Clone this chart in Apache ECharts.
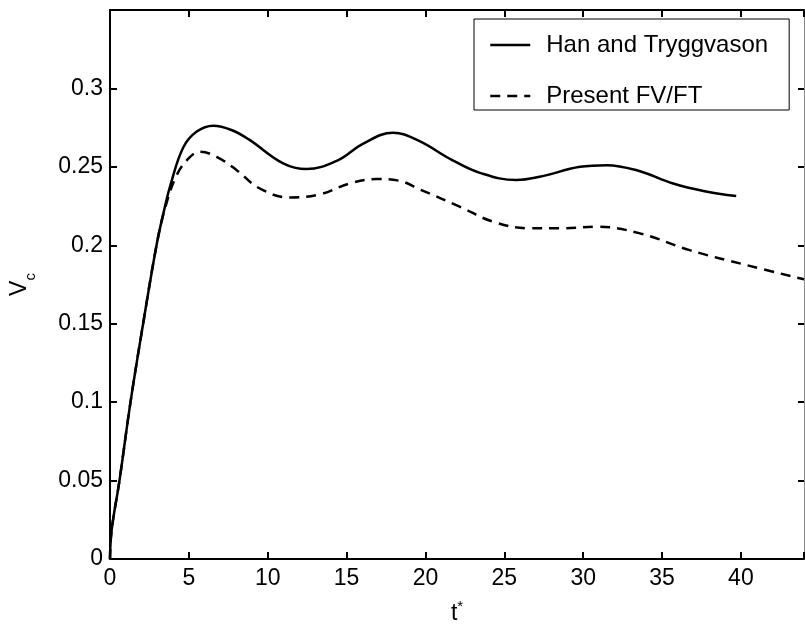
<!DOCTYPE html>
<html>
<head>
<meta charset="utf-8">
<title>Vc vs t*</title>
<script src="https://cdn.jsdelivr.net/npm/echarts@6/dist/echarts.min.js"></script>
<style>
    html, body { margin: 0; padding: 0; background: #fff; }
    #chart { width: 805px; height: 626px; }
</style>
</head>
<body>
<div id="chart"></div>
<script>
    // Han and Tryggvason (solid)
    const hanT = [0, 0.1, 0.6, 1.3, 2.1, 2.95, 3.4, 3.85, 4.65, 5.5, 6.55, 7.7, 8.8, 10.98, 12.46, 14.5, 16.0, 17.95, 19.5, 21.7, 23.5, 25.77, 27.25, 29.8, 31.5, 33.5, 35.7, 37.7, 39.7];
    const hanV = [0, 0.018, 0.05, 0.1, 0.15, 0.2, 0.221, 0.239, 0.2625, 0.2725, 0.2762, 0.2735, 0.2675, 0.2522, 0.2486, 0.2545, 0.2645, 0.2717, 0.267, 0.2543, 0.246, 0.2416, 0.2437, 0.25, 0.2511, 0.2475, 0.2394, 0.2345, 0.2314];

    // Present FV/FT (dashed)
    const fvT = [0, 0.1, 0.6, 1.3, 2.1, 2.95, 3.5, 4.22, 5.0, 5.7, 6.76, 8.03, 9.5, 11.4, 13.3, 15.2, 16.9, 18.3, 19.65, 22.2, 24.3, 26.6, 28.5, 30.85, 33.6, 36.75, 40.35, 44];
    const fvV = [0, 0.018, 0.05, 0.1, 0.15, 0.2, 0.224, 0.2445, 0.2555, 0.2596, 0.2564, 0.2479, 0.2362, 0.2305, 0.2325, 0.2394, 0.2422, 0.2412, 0.2356, 0.2245, 0.215, 0.2108, 0.2108, 0.2118, 0.2076, 0.1969, 0.1874, 0.1783];

    const seriesNames = ['Han and Tryggvason', 'Present FV/FT'];

    const font = 'Liberation Sans, Arial, Helvetica, sans-serif';

    function pairs(xs, ys) {
        return xs.map((x, i) => [x, ys[i]]);
    }

    const chart = echarts.init(document.getElementById('chart'));

    // shared axis look (matlab style box, ticks inside)
    const tickIn = { show: true, inside: true, length: 7, lineStyle: { color: '#000', width: 2 } };

    const option = {
        animation: false,
        backgroundColor: '#fff',
        textStyle: { fontFamily: font },
        grid: { left: 110, right: 1, top: 10, bottom: 67, containLabel: false, outerBoundsMode: 'none' },
        legend: {
            orient: 'vertical',
            left: 474,
            top: 19,
            padding: [14, 21, 2, 15],
            itemGap: 27,
            itemWidth: 40,
            itemHeight: 22,
            borderColor: '#000',
            borderWidth: 1,
            backgroundColor: '#fff',
            itemStyle: { opacity: 0, borderWidth: 0 },
            lineStyle: { width: 2.5 },
            textStyle: { fontFamily: font, fontSize: 24, color: '#000', padding: [0, 0, 0, 11], lineHeight: 22 },
            data: seriesNames
        },
        xAxis: [
            {
                type: 'value',
                min: 0,
                max: 44,
                interval: 5,
                name: '{t|t}{s|*}',
                nameLocation: 'middle',
                nameGap: 40,
                nameTextStyle: {
                    rich: {
                        t: { fontFamily: font, fontSize: 23, color: '#000', verticalAlign: 'bottom', lineHeight: 26 },
                        s: { fontFamily: font, fontSize: 15, color: '#000', verticalAlign: 'top', lineHeight: 26 }
                    }
                },
                axisLine: { show: true, onZero: false, lineStyle: { color: '#000', width: 2 } },
                axisTick: tickIn,
                axisLabel: {
                    fontFamily: font, fontSize: 23, color: '#000', margin: 8,
                    formatter: v => (v % 5 === 0 ? String(v) : '')
                },
                splitLine: { show: false }
            },
            {
                type: 'value',
                position: 'top',
                min: 0,
                max: 44,
                interval: 5,
                axisLine: { show: true, onZero: false, lineStyle: { color: '#000', width: 2 } },
                axisTick: tickIn,
                axisLabel: { show: false },
                splitLine: { show: false }
            }
        ],
        yAxis: [
            {
                type: 'value',
                min: 0,
                max: 0.35,
                interval: 0.05,
                name: '{v|V}{c|c}',
                nameLocation: 'middle',
                nameRotate: 90,
                nameGap: 72,
                nameTextStyle: {
                    rich: {
                        v: { fontFamily: font, fontSize: 23, color: '#000', verticalAlign: 'top', lineHeight: 30 },
                        c: { fontFamily: font, fontSize: 15, color: '#000', verticalAlign: 'bottom', lineHeight: 30 }
                    }
                },
                axisLine: { show: true, onZero: false, lineStyle: { color: '#000', width: 2 } },
                axisTick: tickIn,
                axisLabel: {
                    fontFamily: font, fontSize: 23, color: '#000', margin: 7,
                    formatter: v => (v > 0.34 ? '' : String(Math.round(v * 100) / 100))
                },
                splitLine: { show: false }
            },
            {
                type: 'value',
                position: 'right',
                min: 0,
                max: 0.35,
                interval: 0.05,
                axisLine: { show: true, onZero: false, lineStyle: { color: '#888', width: 1 } },
                axisTick: { show: true, inside: true, length: 6, lineStyle: { color: '#000', width: 2 } },
                axisLabel: { show: false },
                splitLine: { show: false }
            }
        ],
        series: [
            {
                name: seriesNames[0],
                type: 'line',
                data: pairs(hanT, hanV),
                smooth: 0.4,
                symbol: 'none',
                lineStyle: { color: '#000', width: 2.5, type: 'solid' },
                itemStyle: { color: '#000' },
                z: 3
            },
            {
                name: seriesNames[1],
                type: 'line',
                data: pairs(fvT, fvV),
                smooth: 0.4,
                symbol: 'none',
                lineStyle: { color: '#000', width: 2.5, type: [10, 7] },
                itemStyle: { color: '#000' },
                z: 2
            }
        ]
    };

    chart.setOption(option);
</script>
</body>
</html>
